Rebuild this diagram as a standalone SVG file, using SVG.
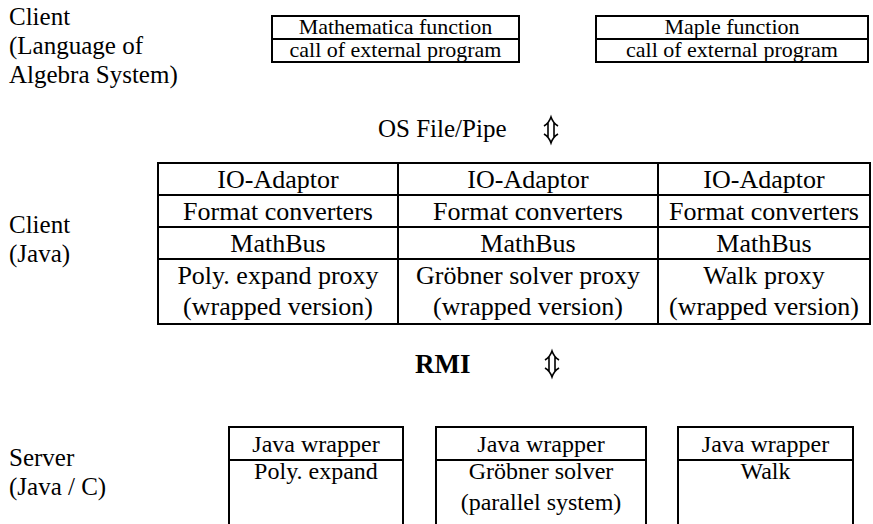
<svg xmlns="http://www.w3.org/2000/svg" width="873" height="524" viewBox="0 0 873 524" font-family="'Liberation Serif', serif" fill="#000">
<defs>
<g id="dblarrow">
<path fill="none" stroke="#000" stroke-width="1.6" d="M-7,-4 Q-2,-7 0,-13 Q2,-7 7,-4 M-3,-8 L-3,8 M3,-8 L3,8 M-7,4 Q-2,7 0,13 Q2,7 7,4"/>
</g>
</defs>
<rect width="873" height="524" fill="#fff"/>
<g id="label-client-cas" font-size="25">
<text x="9" y="25">Client</text>
<text x="9" y="54">(Language of</text>
<text x="9" y="83">Algebra System)</text>
</g>
<g id="mathematica" font-size="22" text-anchor="middle">
<rect x="272" y="16" width="247" height="46" fill="none" stroke="#000" stroke-width="2"/>
<line x1="272" y1="39" x2="519" y2="39" stroke="#000" stroke-width="2"/>
<text x="395.5" y="34">Mathematica function</text>
<text x="395.5" y="57">call of external program</text>
</g>
<g id="maple" font-size="22" text-anchor="middle">
<rect x="596" y="16" width="272" height="46" fill="none" stroke="#000" stroke-width="2"/>
<line x1="596" y1="39" x2="868" y2="39" stroke="#000" stroke-width="2"/>
<text x="732" y="34">Maple function</text>
<text x="732" y="57">call of external program</text>
</g>
<g id="label-os" font-size="25">
<text x="378" y="137">OS File/Pipe</text>
</g>
<g id="label-client-java" font-size="25">
<text x="9" y="233">Client</text>
<text x="9" y="262">(Java)</text>
</g>
<g id="java-client" font-size="26" text-anchor="middle">
<rect x="158" y="163" width="712" height="161" fill="none" stroke="#000" stroke-width="2"/>
<g stroke="#000" stroke-width="2">
<line x1="398" y1="163" x2="398" y2="324"/>
<line x1="658" y1="163" x2="658" y2="324"/>
<line x1="158" y1="195" x2="870" y2="195"/>
<line x1="158" y1="227" x2="870" y2="227"/>
<line x1="158" y1="259" x2="870" y2="259"/>
</g>
<text x="278" y="188">IO-Adaptor</text>
<text x="528" y="188">IO-Adaptor</text>
<text x="764" y="188">IO-Adaptor</text>
<text x="278" y="220">Format converters</text>
<text x="528" y="220">Format converters</text>
<text x="764" y="220">Format converters</text>
<text x="278" y="252">MathBus</text>
<text x="528" y="252">MathBus</text>
<text x="764" y="252">MathBus</text>
<text x="278" y="284">Poly. expand proxy</text>
<text x="528" y="284">Gr&#246;bner solver proxy</text>
<text x="764" y="284">Walk proxy</text>
<text x="278" y="315">(wrapped version)</text>
<text x="528" y="315">(wrapped version)</text>
<text x="764" y="315">(wrapped version)</text>
</g>
<g id="label-rmi">
<text x="415" y="373" font-size="27" font-weight="bold">RMI</text>
</g>
<g id="connectors">
<use href="#dblarrow" x="551" y="130"/>
<use href="#dblarrow" x="552" y="364"/>
</g>
<g id="label-server" font-size="25">
<text x="9" y="466">Server</text>
<text x="9" y="495">(Java / C)</text>
</g>
<g id="server-poly" font-size="24" text-anchor="middle">
<rect x="229" y="427" width="174" height="120" fill="none" stroke="#000" stroke-width="2"/>
<line x1="229" y1="460" x2="403" y2="460" stroke="#000" stroke-width="2"/>
<text x="316" y="452">Java wrapper</text>
<text x="316" y="479">Poly. expand</text>
</g>
<g id="server-groebner" font-size="24" text-anchor="middle">
<rect x="436" y="427" width="210" height="120" fill="none" stroke="#000" stroke-width="2"/>
<line x1="436" y1="460" x2="646" y2="460" stroke="#000" stroke-width="2"/>
<text x="541" y="452">Java wrapper</text>
<text x="541" y="479">Gr&#246;bner solver</text>
<text x="541" y="510">(parallel system)</text>
</g>
<g id="server-walk" font-size="24" text-anchor="middle">
<rect x="678" y="427" width="175" height="120" fill="none" stroke="#000" stroke-width="2"/>
<line x1="678" y1="460" x2="853" y2="460" stroke="#000" stroke-width="2"/>
<text x="765.5" y="452">Java wrapper</text>
<text x="765.5" y="479">Walk</text>
</g>
</svg>
